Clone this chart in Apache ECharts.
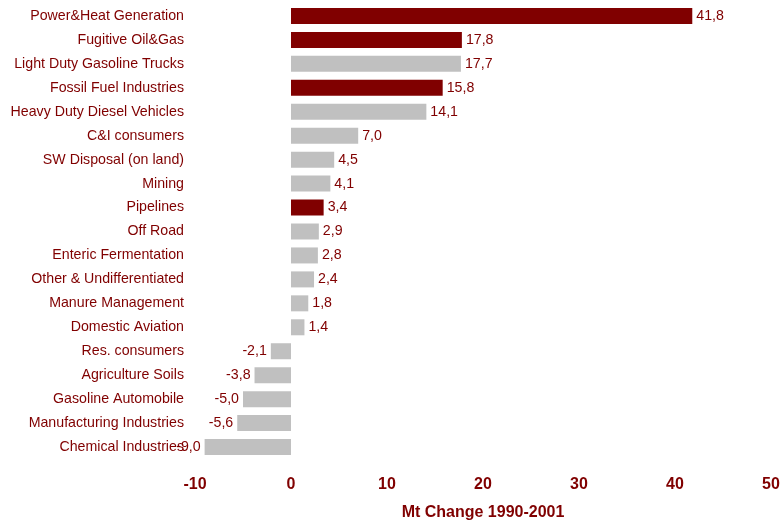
<!DOCTYPE html>
<html><head><meta charset="utf-8">
<script src="https://cdn.jsdelivr.net/npm/echarts@6/dist/echarts.min.js"></script>
<style>html,body{margin:0;padding:0;background:#fff}#c{width:784px;height:521px}</style>
</head><body><div id="c"></div>
<script>
const categories = ["Power&Heat Generation","Fugitive Oil&Gas","Light Duty Gasoline Trucks","Fossil Fuel Industries","Heavy Duty Diesel Vehicles","C&I consumers","SW Disposal (on land)","Mining","Pipelines","Off Road","Enteric Fermentation","Other & Undifferentiated","Manure Management","Domestic Aviation","Res. consumers","Agriculture Soils","Gasoline Automobile","Manufacturing Industries","Chemical Industries"];
const values = [41.8,17.8,17.7,15.8,14.1,7.0,4.5,4.1,3.4,2.9,2.8,2.4,1.8,1.4,-2.1,-3.8,-5.0,-5.6,-9.0];
const highlighted = [true,true,false,true,false,false,false,false,true,false,false,false,false,false,false,false,false,false,false];
const xTicks = {min:-10,max:50,interval:10};
const axisName = "Mt Change 1990-2001";

const RED = '#800000', GRAY = '#C0C0C0';
const FONT = 'Liberation Sans, Arial, sans-serif';
const data = values.map((v,i)=>({
  value:v,
  itemStyle:{color: highlighted[i]?RED:GRAY},
  label:{position: v<0?'left':'right'}
}));
const chart = echarts.init(document.getElementById('c'));
chart.setOption({
  animation:false,
  grid:{left:195,right:13,top:4,bottom:62,containLabel:false,outerBoundsMode:'none'},
  xAxis:{type:'value',min:xTicks.min,max:xTicks.max,interval:xTicks.interval,
    splitLine:{show:false},axisLine:{show:false},axisTick:{show:false},
    axisLabel:{color:RED,fontFamily:FONT,fontWeight:'bold',fontSize:16,margin:18},
    name:axisName,nameLocation:'middle',nameGap:46,
    nameTextStyle:{color:RED,fontFamily:FONT,fontWeight:'bold',fontSize:16}},
  yAxis:{type:'category',data:categories,inverse:true,
    axisLine:{show:false,onZero:false},axisTick:{show:false},splitLine:{show:false},
    axisLabel:{color:RED,fontFamily:FONT,fontSize:14.2,margin:11}},
  series:[{type:'bar',data:data,barWidth:16,
    label:{show:true,color:RED,fontFamily:FONT,fontSize:14.2,distance:4,
      formatter:p=>p.value.toFixed(1).replace('.',',')}}]
});
</script></body></html>
